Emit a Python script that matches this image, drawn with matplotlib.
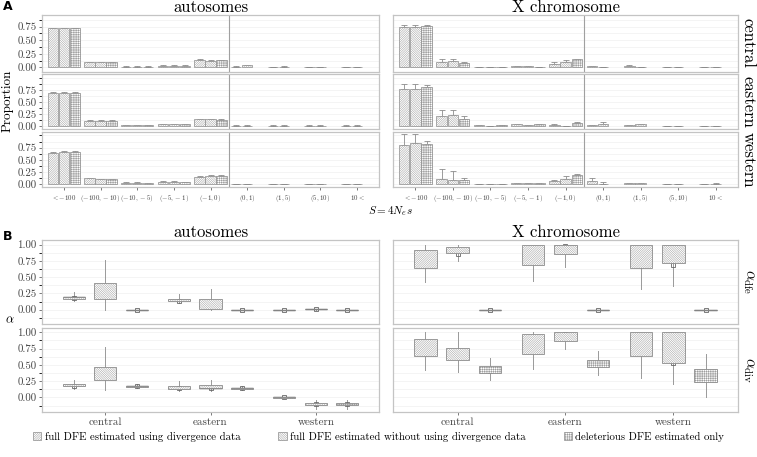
import numpy as np
import matplotlib.pyplot as plt
from matplotlib.patches import Patch
from matplotlib.ticker import FormatStrFormatter, MultipleLocator

plt.rcParams['font.family'] = 'cmr10'
plt.rcParams['mathtext.fontset'] = 'cm'
plt.rcParams['axes.unicode_minus'] = False
plt.rcParams['hatch.linewidth'] = 0.3
plt.rcParams['hatch.color'] = '#9a9a9a'

W, H = 757, 457

# ---- panel A: proportions of new mutations per S bin ----
s_bins = [r'$<-100$', r'$(-100,-10)$', r'$(-10,-5)$', r'$(-5,-1)$', r'$(-1,0)$',
          r'$(0,1)$', r'$(1,5)$', r'$(5,10)$', r'$10<$']
populations = ['central', 'eastern', 'western']

auto_central_div = [0.72, 0.09, 0.01, 0.03, 0.14, 0.01, 0.003, 0.002, 0.002]
auto_central_nodiv = [0.72, 0.09, 0.01, 0.03, 0.12, 0.04, 0.01, 0.002, 0.002]
auto_central_del = [0.72, 0.09, 0.01, 0.03, 0.13]
auto_eastern_div = [0.69, 0.11, 0.01, 0.04, 0.14, 0.003, 0.002, 0.002, 0.002]
auto_eastern_nodiv = [0.69, 0.11, 0.01, 0.04, 0.14, 0.003, 0.002, 0.002, 0.002]
auto_eastern_del = [0.69, 0.11, 0.01, 0.04, 0.13]
auto_western_div = [0.65, 0.12, 0.03, 0.05, 0.16, 0.002, 0.002, 0.002, 0.002]
auto_western_nodiv = [0.67, 0.10, 0.03, 0.05, 0.18, 0.002, 0.002, 0.002, 0.002]
auto_western_del = [0.67, 0.10, 0.02, 0.04, 0.18]
AUTO_ERR = 0.01

x_central_div = [0.75, 0.105, 0.01, 0.02, 0.07, 0.02, 0.03, 0.005, 0.002]
x_central_div_up = [0.78, 0.15, 0.012, 0.022, 0.10, 0.03, 0.035, 0.007, 0.004]
x_central_nodiv = [0.75, 0.12, 0.01, 0.02, 0.10, 0.01, 0.01, 0.005, 0.01]
x_central_nodiv_up = [0.78, 0.15, 0.012, 0.025, 0.135, 0.012, 0.012, 0.007, 0.012]
x_central_del = [0.77, 0.086, 0.008, 0.012, 0.15]
x_central_del_up = [0.79, 0.105, 0.01, 0.015, 0.155]

x_eastern_div = [0.76, 0.215, 0.01, 0.03, 0.02, 0.02, 0.02, 0.003, 0.002]
x_eastern_div_up = [0.87, 0.33, 0.012, 0.035, 0.05, 0.025, 0.025, 0.005, 0.004]
x_eastern_nodiv = [0.76, 0.23, 0.005, 0.01, 0.005, 0.05, 0.03, 0.003, 0.002]
x_eastern_nodiv_up = [0.87, 0.33, 0.007, 0.012, 0.007, 0.08, 0.04, 0.005, 0.004]
x_eastern_del = [0.80, 0.145, 0.01, 0.03, 0.07]
x_eastern_del_up = [0.85, 0.20, 0.012, 0.035, 0.08]

x_western_div = [0.80, 0.11, 0.01, 0.02, 0.06, 0.07, 0.03, 0.003, 0.003]
x_western_div_up = [1.02, 0.32, 0.012, 0.025, 0.09, 0.12, 0.035, 0.005, 0.005]
x_western_nodiv = [0.85, 0.08, 0.01, 0.02, 0.11, 0.01, 0.02, 0.005, 0.01]
x_western_nodiv_up = [1.03, 0.28, 0.012, 0.025, 0.18, 0.04, 0.025, 0.007, 0.02]
x_western_del = [0.83, 0.08, 0.01, 0.02, 0.20]
x_western_del_up = [0.88, 0.14, 0.012, 0.025, 0.21]

# ---- panel B: alpha boxplots (lo whisker, q1, median, q3, hi whisker, mean) ----
# order: central div/nodiv/del, eastern ..., western ...
auto_dfe = [(0.14, 0.17, 0.19, 0.20, 0.27, 0.18), (0.00, 0.17, 0.32, 0.41, 0.76, 0.29), (0, 0, 0, 0, 0, 0),
            (0.11, 0.13, 0.15, 0.17, 0.24, 0.14), (0.00, 0.01, 0.06, 0.16, 0.32, 0.06), (0, 0, 0, 0, 0, 0),
            (0, 0, 0, 0, 0, 0), (0.0, 0.005, 0.01, 0.01, 0.015, 0.01), (0, 0, 0, 0, 0, 0)]
auto_div = [(0.13, 0.17, 0.19, 0.21, 0.27, 0.18), (0.12, 0.26, 0.38, 0.46, 0.77, 0.37), (0.15, 0.16, 0.17, 0.18, 0.20, 0.17),
            (0.10, 0.13, 0.14, 0.17, 0.25, 0.14), (0.10, 0.14, 0.15, 0.19, 0.26, 0.15), (0.11, 0.13, 0.14, 0.15, 0.18, 0.14),
            (-0.01, -0.005, 0.0, 0.0, 0.01, 0.0), (-0.18, -0.12, -0.10, -0.09, -0.04, -0.10), (-0.18, -0.12, -0.10, -0.09, -0.04, -0.10)]
xchr_dfe = [(0.42, 0.64, 0.73, 0.91, 1.0, 0.73), (0.75, 0.87, 0.92, 0.96, 1.0, 0.85), (0, 0, 0, 0, 0, 0),
            (0.44, 0.68, 0.84, 0.995, 1.0, 0.84), (0.65, 0.85, 0.98, 1.0, 1.0, 0.98), (0, 0, 0, 0, 0, 0),
            (0.32, 0.64, 0.92, 1.0, 1.0, 0.90), (0.37, 0.72, 0.96, 1.0, 1.0, 0.68), (0, 0, 0, 0, 0, 0)]
xchr_div = [(0.42, 0.63, 0.73, 0.90, 1.0, 0.73), (0.39, 0.57, 0.65, 0.76, 1.0, 0.64), (0.27, 0.38, 0.43, 0.48, 0.61, 0.41),
            (0.43, 0.67, 0.82, 0.97, 1.0, 0.82), (0.75, 0.87, 0.975, 1.0, 1.0, 0.975), (0.34, 0.47, 0.53, 0.58, 0.71, 0.53),
            (0.30, 0.63, 0.90, 1.0, 1.0, 0.87), (0.21, 0.53, 0.73, 1.0, 1.0, 0.53), (0.0, 0.24, 0.33, 0.43, 0.67, 0.29)]

legend_labels = ['full DFE estimated using divergence data',
                 'full DFE estimated without using divergence data',
                 'deleterious DFE estimated only']

HATCHES = ['/' * 15, '\\' * 15, '+' * 9]
EDGE = '#8c8c8c'
BORDER = '#c4c4c4'
OFFS = [-0.3, 0.0, 0.3]


def rect(x0, y0, x1, y1):
    return [x0 / W, 1 - y1 / H, (x1 - x0) / W, (y1 - y0) / H]


def style(ax, ylab=True, xlab=True):
    for sp in ax.spines.values():
        sp.set_color(BORDER)
        sp.set_linewidth(0.9)
    ax.tick_params(colors='#444444', labelsize=7.8, length=2.5, width=0.5, pad=1.5)
    ax.yaxis.grid(True, which='both', color='#f0f0f0', lw=0.5, zorder=0)
    ax.set_axisbelow(True)
    if not ylab:
        ax.tick_params(axis='y', which='both', left=False, labelleft=False)
    if not xlab:
        ax.tick_params(axis='x', which='both', bottom=False, labelbottom=False)


fig = plt.figure(figsize=(W / 100, H / 100), dpi=100)

cols = [(42, 379), (393, 738)]
a_rows = [(15, 71.7), (74, 129.3), (132, 187.3)]
a_ylims = [(-0.08, 0.966), (-0.07, 1.08), (-0.06, 1.07)]

a_data = {
    0: [(auto_central_div, auto_central_nodiv, auto_central_del, None),
        (auto_eastern_div, auto_eastern_nodiv, auto_eastern_del, None),
        (auto_western_div, auto_western_nodiv, auto_western_del, None)],
    1: [(x_central_div, x_central_nodiv, x_central_del,
         (x_central_div_up, x_central_nodiv_up, x_central_del_up)),
        (x_eastern_div, x_eastern_nodiv, x_eastern_del,
         (x_eastern_div_up, x_eastern_nodiv_up, x_eastern_del_up)),
        (x_western_div, x_western_nodiv, x_western_del,
         (x_western_div_up, x_western_nodiv_up, x_western_del_up))],
}

xs = np.arange(1, len(s_bins) + 1)
for c, (cx0, cx1) in enumerate(cols):
    for r, (ry0, ry1) in enumerate(a_rows):
        ax = fig.add_axes(rect(cx0, ry0, cx1, ry1))
        d = a_data[c][r]
        for k in range(3):
            vals = np.array(d[k])
            pos = xs[:len(vals)] + OFFS[k]
            ax.bar(pos, vals, width=0.28, facecolor='white', edgecolor=EDGE,
                   hatch=HATCHES[k], lw=0.5, zorder=3)
            if d[3] is None:
                up = vals + AUTO_ERR
            else:
                up = np.array(d[3][k])
            ax.errorbar(pos, vals, yerr=[np.zeros_like(vals), up - vals], fmt='none',
                        ecolor=EDGE, elinewidth=0.6, capsize=2.5, capthick=0.6, zorder=2)
        ax.axvline(5.5, color='#a0a0a0', lw=0.8, zorder=1)
        ax.set_xlim(0.4, 9.6)
        ax.set_ylim(*a_ylims[r])
        ax.set_yticks([0, 0.25, 0.5, 0.75])
        ax.yaxis.set_minor_locator(MultipleLocator(0.125))
        ax.yaxis.set_major_formatter(FormatStrFormatter('%.2f'))
        ax.set_xticks(xs)
        style(ax, ylab=(c == 0), xlab=(r == 2))
        ax.set_xticklabels(s_bins, fontsize=5.0)

b_rows = [(240, 324), (327.7, 411.7)]
b_data = [[auto_dfe, auto_div], [xchr_dfe, xchr_div]]
gx = np.arange(1, 4)
for c, (cx0, cx1) in enumerate(cols):
    for r, (ry0, ry1) in enumerate(b_rows):
        ax = fig.add_axes(rect(cx0, ry0, cx1, ry1))
        table = b_data[c][r]
        for i, (lo, q1, med, q3, hi, mean) in enumerate(table):
            g, k = divmod(i, 3)
            bp = ax.bxp([dict(whislo=lo, q1=q1, med=med, q3=q3, whishi=hi, mean=mean, fliers=[])],
                        positions=[gx[g] + OFFS[k]], widths=0.21, patch_artist=True,
                        showmeans=True, showcaps=False, manage_ticks=False,
                        boxprops=dict(facecolor='white', edgecolor=EDGE, lw=0.6, hatch=HATCHES[k]),
                        whiskerprops=dict(color='#999999', lw=0.7),
                        medianprops=dict(color='#555555', lw=1.0),
                        meanprops=dict(marker='s', markersize=2.8, markerfacecolor='none',
                                       markeredgecolor='#666666', markeredgewidth=0.6))
            for b in bp['boxes']:
                b.set_zorder(3)
        ax.set_xlim(0.4, 3.6)
        ax.set_ylim(-0.22, 1.07)
        ax.set_yticks([0, 0.25, 0.5, 0.75, 1.0])
        ax.yaxis.set_minor_locator(MultipleLocator(0.125))
        ax.yaxis.set_major_formatter(FormatStrFormatter('%.2f'))
        ax.set_xticks(gx)
        style(ax, ylab=(c == 0), xlab=(r == 1))
        ax.set_xticklabels(populations, fontsize=8)

# strip texts and labels
for (cx0, cx1), name in zip(cols, ['autosomes', 'X chromosome']):
    fig.text((cx0 + cx1) / 2 / W, 1 - 7.5 / H, name, ha='center', va='center', fontsize=12)
    fig.text((cx0 + cx1) / 2 / W, 1 - 232.5 / H, name, ha='center', va='center', fontsize=12)
for (ry0, ry1), name in zip(a_rows, populations):
    fig.text(748 / W, 1 - (ry0 + ry1) / 2 / H, name, ha='center', va='center',
             rotation=-90, fontsize=12)
for (ry0, ry1), name in zip(b_rows, [r'$\alpha_{\rm dfe}$', r'$\alpha_{\rm div}$']):
    fig.text(748 / W, 1 - (ry0 + ry1) / 2 / H, name, ha='center', va='center',
             rotation=-90, fontsize=11)

fig.text(8 / W, 1 - 101 / H, 'Proportion', rotation=90, ha='center', va='center', fontsize=9.5)
fig.text(10 / W, 1 - 320 / H, r'$\alpha$', ha='center', va='center', fontsize=9)
fig.text(390 / W, 1 - 211 / H, r'$S = 4N_e s$', ha='center', va='center', fontsize=8)
fig.text(3 / W, 1 - 6 / H, 'A', family='DejaVu Sans', weight='bold', fontsize=9, va='center')
fig.text(3 / W, 1 - 236 / H, 'B', family='DejaVu Sans', weight='bold', fontsize=9, va='center')

handles = [Patch(facecolor='white', edgecolor=EDGE, hatch=h, lw=0.5) for h in HATCHES]
fig.legend(handles, legend_labels, loc='center', bbox_to_anchor=(0.5, 1 - 437 / H), ncol=3,
           frameon=False, fontsize=7.8, handlelength=0.8, handleheight=0.8, handletextpad=0.3,
           columnspacing=3.5)

fig.savefig('out.png', dpi=100)
